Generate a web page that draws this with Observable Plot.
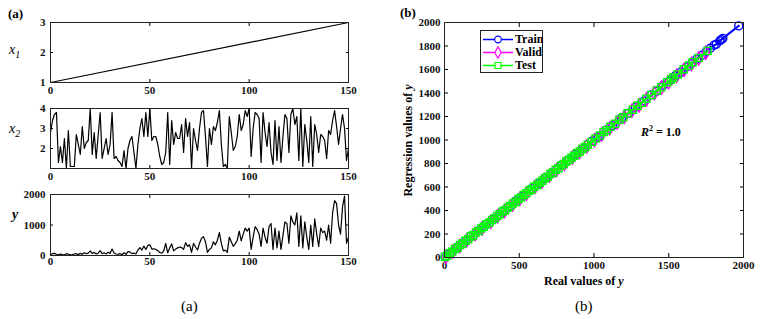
<!DOCTYPE html>
<html><head><meta charset="utf-8">
<script src="https://cdn.jsdelivr.net/npm/d3@7"></script>
<script src="https://cdn.jsdelivr.net/npm/@observablehq/plot@0.6"></script>
<style>
body{margin:0;background:#fff;}
#root{position:relative;width:765px;height:319px;font-family:"Liberation Serif",serif;overflow:hidden;background:#fff}
#root svg text{font-family:"Liberation Serif",serif !important;font-weight:bold;font-size:11px;fill:#111}
.abs{position:absolute;white-space:nowrap}
</style></head><body><div id="root"></div>
<script>
// ---------- data ----------
const x1X = [0, 150];
const x1Y = [1, 3];

const x2X = [0,1,2,3,4,5,6,7,8,9,10,12,13,14,15,16,17,18,19,20,21,22,23,25,26,27,28,29,30,31,32,33,34,35,36,37,38,39,40,41,42,43,44,45,46,47,48,49,50,51,52,53,54,55,56,57,58,59,60,61,62,63,64,65,66,67,68,69,70,71,72,73,74,75,76,77,78,79,80,81,82,83,84,85,86,87,88,89,90,91,92,93,94,95,96,97,98,99,100,101,102,103,104,105,106,107,108,109,110,111,112,113,114,115,116,117,118,119,120,121,122,123,124,125,126,127,128,129,130,131,132,133,134,135,136,137,138,139,140,141,142,143,144,145,146,147,148,149,150];
const x2Y = [2.8,3.4,3.7,3.8,1.3,2.1,1.3,2.5,1.0,2.9,1.1,1.1,2.7,2.2,1.7,3.1,2.0,2.3,2.4,4.0,1.7,2.8,1.5,3.8,1.5,2.0,2.5,1.7,2.2,3.8,1.5,1.6,1.4,1.3,1.1,1.9,1.0,2.0,2.4,2.6,1.8,1.0,2.2,3.0,3.5,2.6,3.8,2.6,4.0,2.4,2.6,2.6,2.2,1.6,1.2,1.3,1.8,3.8,1.2,3.4,2.2,2.8,2.5,2.5,3.2,1.8,3.5,2.6,3.3,1.0,3.0,2.4,1.9,3.0,3.8,3.9,2.6,1.1,3.0,2.2,3.1,2.9,3.3,3.9,2.2,1.1,1.2,1.0,3.6,2.8,1.9,2.1,2.6,3.7,2.9,3.2,3.9,3.6,4.0,1.6,3.0,3.8,3.7,3.5,1.3,3.8,2.8,2.1,3.3,1.8,1.2,3.4,1.4,3.1,1.3,2.6,3.7,3.5,1.8,3.7,4.0,3.2,3.6,1.4,4.0,1.1,3.2,2.4,1.3,3.6,1.1,3.2,2.7,1.8,2.7,2.6,2.4,1.5,2.9,2.7,3.4,3.9,3.1,2.2,3.0,3.7,3.0,1.4,2.0];

const yX = [0,1,2,3,4,5,6,7,8,9,10,11,12,13,14,15,16,17,18,19,20,21,22,23,24,25,26,27,28,29,30,31,32,33,34,35,36,37,38,39,40,41,42,43,44,45,46,47,48,49,50,51,52,53,54,55,56,57,58,59,60,61,62,63,64,65,66,67,68,69,70,71,72,73,74,75,76,77,78,79,80,81,82,83,84,85,86,87,88,89,90,91,92,93,94,95,96,97,98,99,100,101,102,103,104,105,106,107,108,109,110,111,112,113,114,115,116,117,118,119,120,121,122,123,124,125,126,127,128,129,130,131,132,133,134,135,136,137,138,139,140,141,142,143,144,145,146,147,148,149,150];
const yY = [30,60,70,40,20,50,30,20,60,40,20,30,50,60,30,70,40,90,60,80,150,70,100,50,80,160,60,90,50,110,70,210,80,50,40,60,30,90,40,130,120,60,80,50,180,260,180,310,200,330,350,210,220,200,160,100,80,150,400,90,250,380,150,210,250,280,260,200,420,300,350,100,400,280,180,400,560,620,450,100,200,250,450,350,500,750,400,150,180,100,600,450,300,380,500,800,480,700,900,800,900,200,600,950,850,700,300,900,600,400,950,1050,200,900,250,800,200,650,1100,1050,400,1300,1100,1000,1400,300,1300,250,1100,600,200,1000,300,1200,700,300,900,750,800,500,1000,400,1400,1800,1700,1000,700,1600,1950,400,600];

const xTicksA = [0, 50, 100, 150];
const x1Ticks = [1, 2, 3];
const x2Ticks = [2, 3, 4];
const yTicksA = [0, 1000, 2000];

const trainReal = [4,37,82,126,175,233,281,327,384,436,478,529,583,634,676,728,785,833,874,931,986,1027,1083,1126,1184,1232,1276,1335,1381,1418,1463,1502,1545,1579,1618,1652,1688,1724,1752,1778,1803,1818,1842,1851,1862,1968];
const trainPred = [6,35,85,124,178,230,284,325,387,433,481,526,586,631,679,725,788,830,877,928,989,1024,1086,1123,1187,1229,1279,1332,1384,1415,1466,1499,1548,1576,1621,1649,1691,1721,1755,1781,1806,1815,1845,1854,1865,1971];
const validReal = [10,55,102,148,205,252,310,356,402,455,503,548,605,652,703,748,802,856,903,951,1004,1052,1106,1155,1203,1254,1302,1352,1404,1452,1498,1553,1604,1652,1700,1748];
const validPred = [7,50,97,144,199,247,304,351,396,450,497,543,599,646,697,742,796,850,897,945,998,1046,1100,1149,1197,1248,1296,1346,1398,1446,1492,1547,1598,1646,1694,1742];
const testReal = [3,18,35,52,70,88,105,121,140,158,176,192,210,228,247,263,280,300,318,335,352,370,389,405,423,440,458,477,495,512,530,548,566,583,600,620,637,655,672,690,708,726,744,762,780,798,815,833,850,868,887,905,922,940,958,985,1010,1040,1065,1085,1110,1140,1170,1195,1225,1260,1290,1320,1350,1385,1420,1450,1490,1515,1530,1560,1600,1635,1660,1700,1760];
const testPred = [5,16,37,50,72,86,107,119,142,156,178,190,212,226,249,261,282,298,320,333,354,368,391,403,425,438,460,475,497,510,532,546,568,581,602,618,639,653,674,688,710,724,746,760,782,796,817,831,852,866,889,903,924,938,960,983,1012,1038,1067,1083,1112,1138,1172,1193,1227,1258,1292,1318,1352,1383,1422,1448,1492,1513,1532,1558,1602,1633,1662,1698,1758];
const bTicks = [0, 500, 1000, 1500, 2000];
const bYTicks = [0, 200, 400, 600, 800, 1000, 1200, 1400, 1600, 1800, 2000];
const legendNames = ["Train", "Valid", "Test"];
const legendColors = ["#0000ff", "#ff00ff", "#00ff00"];
const legendSymbols = ["circle", "diamond", "square"];

// ---------- drawing ----------
const root = document.getElementById("root");
const baseStyle = {background: "transparent", overflow: "visible", fontFamily: "'Liberation Serif', serif", fontWeight: "bold", fontSize: "11px"};
const fmt = d => String(d);

function place(el, left, top) {
  el.style.position = "absolute";
  el.style.left = left + "px";
  el.style.top = top + "px";
  root.appendChild(el);
}

function linePanel(xs, ys, yDomain, yTicks, height, mTop, mBottom, padX) {
  const data = xs.map((x, i) => ({x, y: ys[i]}));
  return Plot.plot({
    width: 360, height, marginLeft: 50, marginRight: 12, marginTop: mTop, marginBottom: mBottom,
    style: baseStyle,
    x: {domain: [0, 150]}, y: {domain: yDomain},
    marks: [
      Plot.axisX({anchor: "bottom", ticks: xTicksA, tickSize: -3, tickPadding: padX, tickFormat: fmt, label: null}),
      Plot.axisX({anchor: "top", ticks: xTicksA, tickSize: -3, tickFormat: () => "", label: null}),
      Plot.axisY({anchor: "left", ticks: yTicks, tickSize: -3, tickPadding: 8, tickFormat: fmt, label: null}),
      Plot.axisY({anchor: "right", ticks: yTicks, tickSize: -3, tickFormat: () => "", label: null}),
      Plot.line(data, {x: "x", y: "y", stroke: "#000", strokeWidth: 1.2}),
      Plot.frame({stroke: "#222", strokeWidth: 1})
    ]
  });
}

place(linePanel(x1X, x1Y, [1, 3], x1Ticks, 100, 22, 18, 7), 0, 0);
place(linePanel(x2X, x2Y, [1, 4], x2Ticks, 90, 12, 18, 7), 0, 96);
place(linePanel(yX, yY, [0, 2000], yTicksA, 86, 12, 13, 5), 0, 182);

// right panel
const mk = (r, p, name) => r.map((v, i) => ({real: v, pred: p[i], set: name}));
const sets = [mk(trainReal, trainPred, "Train"), mk(validReal, validPred, "Valid"), mk(testReal, testPred, "Test")];
const seriesMarks = [];
sets.forEach((d, i) => {
  seriesMarks.push(Plot.line(d, {x: "real", y: "pred", stroke: legendColors[i], strokeWidth: 2}));
  seriesMarks.push(Plot.dot(d, {x: "real", y: "pred", stroke: legendColors[i], symbol: legendSymbols[i], r: 4, strokeWidth: 1.4, fill: "none"}));
});
const right = Plot.plot({
  width: 385, height: 290, marginLeft: 64, marginRight: 22, marginTop: 22, marginBottom: 33,
  style: baseStyle,
  x: {domain: [0, 2000]}, y: {domain: [0, 2000]},
  marks: [
    Plot.axisX({anchor: "bottom", ticks: bTicks, tickSize: -4, tickPadding: 8, tickFormat: fmt, label: null}),
    Plot.axisX({anchor: "top", ticks: bTicks, tickSize: -4, tickFormat: () => "", label: null}),
    Plot.axisY({anchor: "left", ticks: bYTicks, tickSize: -4, tickPadding: 8, tickFormat: fmt, label: null}),
    Plot.axisY({anchor: "right", ticks: bYTicks, tickSize: -4, tickFormat: () => "", label: null}),
    ...seriesMarks,
    Plot.frame({stroke: "#222", strokeWidth: 1})
  ]
});
place(right, 380, 0);

// texts
function txt(html, left, top, css) {
  const d = document.createElement("div");
  d.className = "abs";
  d.innerHTML = html;
  Object.assign(d.style, css || {});
  place(d, left, top);
  return d;
}
txt("(a)", 8, 6, {fontWeight: "bold", fontSize: "13px"});
txt("(b)", 400, 5, {fontWeight: "bold", fontSize: "13px"});
txt("<i>x</i><sub style='font-size:10px;font-style:italic'>1</sub>", 9, 42, {fontSize: "14px"});
txt("<i>x</i><sub style='font-size:10px;font-style:italic'>2</sub>", 9, 121, {fontSize: "14px"});
txt("<i>y</i>", 12, 207, {fontSize: "14px", fontWeight: "bold"});
txt("Real values of <i>y</i>", 544, 274, {fontWeight: "bold", fontSize: "12px"});
txt("Regression values of <i>y</i>", 343, 133, {fontWeight: "bold", fontSize: "12px", transform: "rotate(-90deg)", width: "130px", textAlign: "center"});
txt("<i>R</i><sup style='font-size:8px'>2</sup> = 1.0", 641, 124, {fontWeight: "bold", fontSize: "12px"});
txt("(a)", 181, 298, {fontSize: "15px"});
txt("(b)", 575, 298, {fontSize: "15px"});

// legend
const lg = document.createElement("div");
Object.assign(lg.style, {width: "63px", height: "43px", border: "1px solid #222", background: "#fff", boxSizing: "border-box"});
legendNames.forEach((name, i) => {
  const row = document.createElement("div");
  Object.assign(row.style, {height: "13px", display: "flex", alignItems: "center", marginTop: i === 0 ? "2px" : "0"});
  const sw = d3.create("svg").attr("width", 32).attr("height", 13).style("flex", "none");
  sw.append("line").attr("x1", 2).attr("x2", 32).attr("y1", 6.5).attr("y2", 6.5).attr("stroke", legendColors[i]).attr("stroke-width", 1.5);
  const sym = {circle: d3.symbolCircle, diamond: d3.symbolDiamond, square: d3.symbolSquare}[legendSymbols[i]];
  sw.append("path").attr("d", d3.symbol(sym, 36)).attr("transform", "translate(17,6.5)").attr("fill", "#fff").attr("stroke", legendColors[i]).attr("stroke-width", 1.2);
  row.appendChild(sw.node());
  const t = document.createElement("span");
  t.textContent = name;
  Object.assign(t.style, {fontWeight: "bold", fontSize: "12px", marginLeft: "2px"});
  row.appendChild(t);
  lg.appendChild(row);
});
place(lg, 480, 30);
</script>
</body></html>
